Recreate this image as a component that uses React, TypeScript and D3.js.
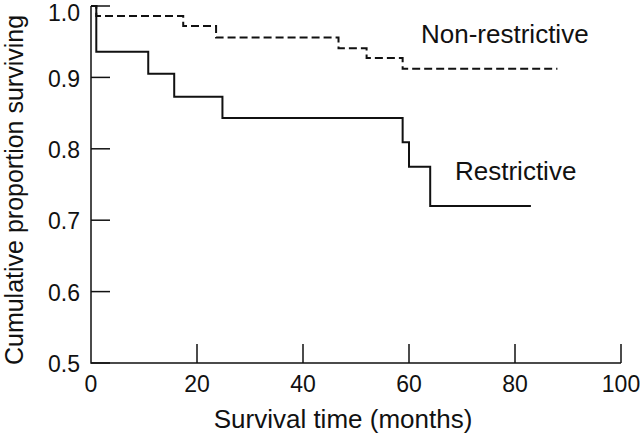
import { useEffect, useRef } from "react";
import * as d3 from "d3";

// Kaplan-Meier steps
const restrictiveTimes = [0, 1, 10.8, 15.7, 24.8, 58.8, 60, 64, 83];
const restrictiveValues = [1.0, 0.936, 0.905, 0.873, 0.843, 0.809, 0.775, 0.72, 0.72];
const nonRestrictiveTimes = [0, 1, 17.4, 23.6, 46.7, 52, 58.8, 88];
const nonRestrictiveValues = [1.0, 0.986, 0.972, 0.956, 0.941, 0.927, 0.912, 0.912];

const xTicks = [0, 20, 40, 60, 80, 100];
const yTicks = [0.5, 0.6, 0.7, 0.8, 0.9, 1.0];

const FONT = "'Liberation Sans', Arial, Helvetica, sans-serif";

function App() {
  const ref = useRef<SVGSVGElement>(null);

  useEffect(() => {
    if (!ref.current) return;
    const svg = d3.select(ref.current);
    svg.selectAll("*").remove();

    const x = d3.scaleLinear().domain([0, 100]).range([91, 621]);
    const y = d3.scaleLinear().domain([0.5, 1]).range([363, 6]);
    const tickLen = 19;
    const ink = "#111";

    // axes
    svg
      .append("path")
      .attr("d", `M${x(0)},${y(1)}V${y(0.5)}H${x(100)}`)
      .attr("fill", "none")
      .attr("stroke", ink)
      .attr("stroke-width", 1.5);

    svg
      .selectAll(".ytick")
      .data(yTicks)
      .enter()
      .append("line")
      .attr("x1", x(0))
      .attr("x2", x(0) + tickLen)
      .attr("y1", (d) => y(d))
      .attr("y2", (d) => y(d))
      .attr("stroke", ink)
      .attr("stroke-width", 1.5);

    svg
      .selectAll(".ylabel")
      .data(yTicks)
      .enter()
      .append("text")
      .attr("x", 80)
      .attr("y", (d) => Math.max(y(d) + 1, 13))
      .attr("dy", "0.36em")
      .attr("text-anchor", "end")
      .style("font-family", FONT)
      .style("font-size", "23px")
      .style("fill", ink)
      .text((d) => d.toFixed(1));

    svg
      .selectAll(".xtick")
      .data(xTicks.slice(1))
      .enter()
      .append("line")
      .attr("x1", (d) => x(d))
      .attr("x2", (d) => x(d))
      .attr("y1", y(0.5))
      .attr("y2", y(0.5) - tickLen)
      .attr("stroke", ink)
      .attr("stroke-width", 1.5);

    svg
      .selectAll(".xlabel")
      .data(xTicks)
      .enter()
      .append("text")
      .attr("x", (d) => x(d))
      .attr("y", 392)
      .attr("text-anchor", "middle")
      .style("font-family", FONT)
      .style("font-size", "23px")
      .style("fill", ink)
      .text((d) => String(d));

    // axis titles
    svg
      .append("text")
      .attr("x", 343)
      .attr("y", 428)
      .attr("text-anchor", "middle")
      .style("font-family", FONT)
      .style("font-size", "26px")
      .style("fill", ink)
      .text("Survival time (months)");

    svg
      .append("text")
      .attr("transform", "translate(22.5,190) rotate(-90)")
      .attr("text-anchor", "middle")
      .style("font-family", FONT)
      .style("font-size", "25px")
      .style("fill", ink)
      .text("Cumulative proportion surviving");

    // survival curves
    const line = d3
      .line<[number, number]>()
      .x((d) => x(d[0]))
      .y((d) => y(d[1]))
      .curve(d3.curveStepAfter);

    const restrictive = restrictiveTimes.map(
      (t, i) => [t, restrictiveValues[i]] as [number, number]
    );
    const nonRestrictive = nonRestrictiveTimes.map(
      (t, i) => [t, nonRestrictiveValues[i]] as [number, number]
    );

    svg
      .append("path")
      .attr("d", line(nonRestrictive))
      .attr("fill", "none")
      .attr("stroke", ink)
      .attr("stroke-width", 2)
      .attr("stroke-dasharray", "8,4");

    svg
      .append("path")
      .attr("d", line(restrictive))
      .attr("fill", "none")
      .attr("stroke", ink)
      .attr("stroke-width", 2);

    // curve labels
    svg
      .append("text")
      .attr("x", 421)
      .attr("y", 43)
      .style("font-family", FONT)
      .style("font-size", "26px")
      .style("fill", ink)
      .text("Non-restrictive");

    svg
      .append("text")
      .attr("x", 455)
      .attr("y", 180)
      .style("font-family", FONT)
      .style("font-size", "26px")
      .style("fill", ink)
      .text("Restrictive");
  }, []);

  return (
    <svg
      ref={ref}
      width={640}
      height={434}
      viewBox="0 0 640 434"
      style={{ position: "absolute", left: 0, top: 0, background: "#fff" }}
    />
  );
}

export default App;
